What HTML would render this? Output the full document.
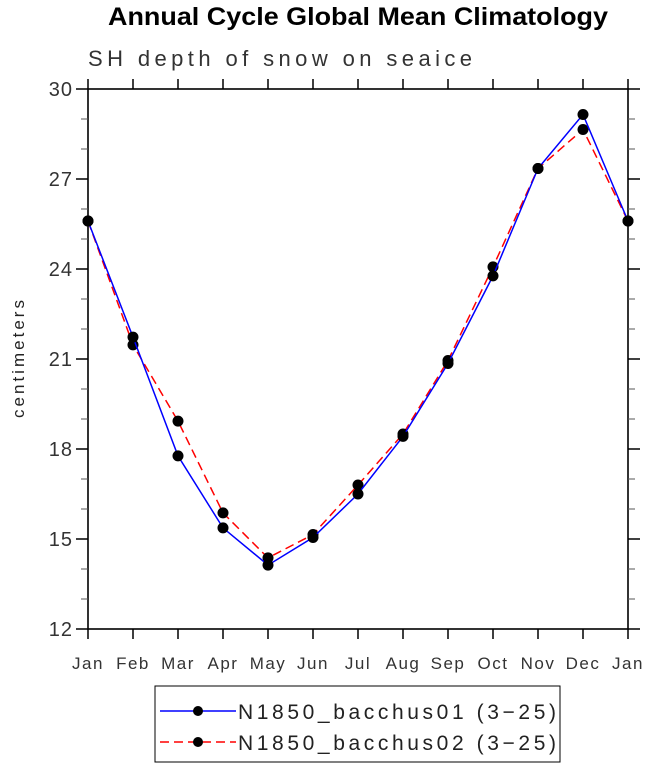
<!DOCTYPE html>
<html><head><meta charset="utf-8"><style>
body{margin:0;background:#fff;}
svg text{font-family:"Liberation Sans",sans-serif;}
</style></head><body>
<svg width="648" height="769" viewBox="0 0 648 769" xmlns="http://www.w3.org/2000/svg">
<text x="108" y="25" font-size="25" font-weight="bold" textLength="500" lengthAdjust="spacingAndGlyphs">Annual Cycle Global Mean Climatology</text>
<text x="88" y="66" font-size="22" fill="#333" textLength="384" lengthAdjust="spacing">SH depth of snow on seaice</text>
<text transform="translate(24,359) rotate(-90)" text-anchor="middle" font-size="17" fill="#222" textLength="118" lengthAdjust="spacing">centimeters</text>
<g id="axes"></g>
<g id="marks"></g>
<g id="legend">
<rect x="155" y="686" width="405" height="76" fill="none" stroke="#000" stroke-width="1"/>
<g>
<line x1="160" y1="711" x2="236" y2="711" stroke="#0000ff" stroke-width="1.5"/>
<circle cx="198" cy="711" r="5" fill="#000"/>
<text x="238" y="719" font-size="21" fill="#222" textLength="318" lengthAdjust="spacing">N1850_bacchus01 (3−25)</text>
</g>
<g>
<line x1="160" y1="742" x2="236" y2="742" stroke="#ff0000" stroke-width="1.5" stroke-dasharray="9,5"/>
<circle cx="198" cy="742" r="5" fill="#000"/>
<text x="238" y="750" font-size="21" fill="#222" textLength="318" lengthAdjust="spacing">N1850_bacchus02 (3−25)</text>
</g>
</g>
</svg>
<script>
const months=["Jan","Feb","Mar","Apr","May","Jun","Jul","Aug","Sep","Oct","Nov","Dec","Jan"];
const bacchus01=[25.6,21.73,17.77,15.37,14.13,15.05,16.5,18.42,20.85,23.77,27.35,29.15,25.6];
const bacchus02=[25.6,21.47,18.93,15.87,14.37,15.15,16.8,18.5,20.95,24.07,27.35,28.65,25.6];
const yTicks=[12,15,18,21,24,27,30];
const X0=88,X1=628,Y0=89,Y1=629,YMIN=12,YMAX=30;
function xs(i){return X0+(X1-X0)*i/(months.length-1);}
function ys(v){return Y1-(v-YMIN)/(YMAX-YMIN)*(Y1-Y0);}
const NS="http://www.w3.org/2000/svg";
function mk(tag,attrs,parent){const e=document.createElementNS(NS,tag);for(const k in attrs)e.setAttribute(k,attrs[k]);parent.appendChild(e);return e;}
const axes=document.getElementById('axes');
const frame=mk('rect',{x:X0,y:Y0,width:X1-X0,height:Y1-Y0,fill:'none',stroke:'#000','stroke-width':1.6},axes);


for(let v=YMIN;v<=YMAX;v++){
  const major=(v-YMIN)%3===0;const L=major?12:7;const y=ys(v);
  const t1=mk('line',{x1:X0-L,y1:y,x2:X0,y2:y,stroke:major?'#000':'#555','stroke-width':major?1.5:1},axes);
  
  
  const t2=mk('line',{x1:X1,y1:y,x2:X1+L,y2:y,stroke:major?'#000':'#555','stroke-width':major?1.5:1},axes);
  
  
}
yTicks.forEach(v=>{
  const t=mk('text',{x:X0-15,y:ys(v)+7,'text-anchor':'end','font-size':20,fill:'#333','letter-spacing':1},axes);t.textContent=v;
  
  
});
months.forEach((m,i)=>{
  const x=xs(i);
  const a=mk('line',{x1:x,y1:Y1,x2:x,y2:Y1+10,stroke:'#000','stroke-width':1.5},axes);
  
  
  const b=mk('line',{x1:x,y1:Y0-10,x2:x,y2:Y0,stroke:'#000','stroke-width':1.5},axes);
  
  
  const t=mk('text',{x:x,y:669,'text-anchor':'middle','font-size':17,fill:'#333','letter-spacing':1.5},axes);t.textContent=m;
  
  
});
const marks=document.getElementById('marks');
function series(data,color,dash,name){
  const pts=data.map((v,i)=>xs(i)+','+ys(v)).join(' ');
  const p=mk('polyline',{points:pts,fill:'none',stroke:color,'stroke-width':1.5},marks);
  if(dash)p.setAttribute('stroke-dasharray',dash);
  
  
  data.forEach((v,i)=>{
    const c=mk('circle',{cx:xs(i),cy:ys(v),r:5.5,fill:'#000'},marks);
    
    
  });
}
series(bacchus02,'#ff0000','9,5','bacchus02');
series(bacchus01,'#0000ff',null,'bacchus01');
</script>
</body></html>
